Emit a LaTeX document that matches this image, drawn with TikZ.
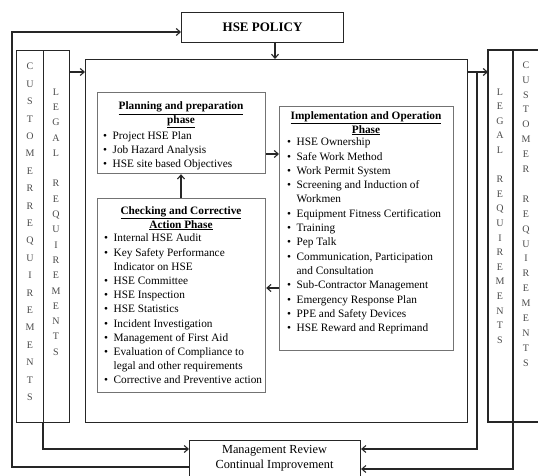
\documentclass[tikz,border=0pt]{standalone}
\usepackage{fontspec}
\setmainfont{Liberation Serif}
\usetikzlibrary{arrows.meta}
\begin{document}
\begin{tikzpicture}[x=1pt,y=-1pt,
  frame/.style={draw=black!85, line width=1.1pt, inner sep=0pt, anchor=north west},
  phasebox/.style={draw=black!55, line width=1.2pt, inner sep=0pt, anchor=north west},
  conn/.style={draw=black!85, line width=1.1pt},
  arr/.style={conn,-{Straight Barb[length=4pt,width=7pt]}},
  phasetitle/.style={font=\fontsize{11.3}{13.5}\selectfont\bfseries, align=center, inner sep=0pt},
  itemlist/.style={font=\fontsize{11.3}{14.2}\selectfont, align=left, inner sep=0pt, anchor=west},
  letters/.style={font=\fontsize{10}{#1}\selectfont, text=black!70, align=center, inner sep=0pt},
]
\newcommand{\bul}{\makebox[9.5pt][l]{\textbullet}}
\newcommand{\cont}{\hspace*{9.5pt}}
\useasboundingbox (0,0) rectangle (538,476);
\fill[white] (0,0) rectangle (538,476);

% top policy box
\node[frame, minimum width=162pt, minimum height=30pt] (policy) at (181,12) {};
\node[font=\fontsize{13}{15}\selectfont\bfseries, inner sep=0pt] (policytxt) at (policy.center) {HSE POLICY};

% main box
\node[frame, minimum width=382pt, minimum height=363pt] (main) at (85,59) {};

% left strip
\node[frame, minimum width=27pt, minimum height=372pt] (lcust) at (16,50) {};
\node[frame, minimum width=26pt, minimum height=372pt] (llegal) at (43,50) {};
\node[letters=17.4] (lcusttxt) at (30,232) {C\\U\\S\\T\\O\\M\\E\\R\\R\\E\\Q\\U\\I\\R\\E\\M\\E\\N\\T\\S};
\node[letters=15.3] (llegaltxt) at (56,222) {L\\E\\G\\A\\L\\\mbox{}\\R\\E\\Q\\U\\I\\R\\E\\M\\E\\N\\T\\S};

% right strip (cut at the right border)
\draw[conn] (540,50) -- (488,50) -- (488,422) -- (540,422);
\coordinate (rdivtop) at (513,50);
\coordinate (rdivbot) at (513,422);
\draw[conn] (rdivtop) -- (rdivbot);
\node[letters=14.6] (rlegaltxt) at (500,216) {L\\E\\G\\A\\L\\\mbox{}\\R\\E\\Q\\U\\I\\R\\E\\M\\E\\N\\T\\S};
\node[letters=14.9] (rcusttxt) at (526,214) {C\\U\\S\\T\\O\\M\\E\\R\\\mbox{}\\R\\E\\Q\\U\\I\\R\\E\\M\\E\\N\\T\\S};
\coordinate (rstripin) at (488,72);

% management box
\node[frame, minimum width=171pt, minimum height=37pt] (mgmt) at (189,440) {};
\node[font=\fontsize{12.3}{15}\selectfont, align=center, inner sep=0pt] (mgmttxt) at (274.5,458.5) {Management Review\\Continual Improvement};

% planning box
\node[phasebox, minimum width=168pt, minimum height=81pt] (plan) at (97,92) {};
\node[phasetitle] (plantitle) at (181,115) {\underline{Planning and preparation}\\\underline{phase}};
\node[itemlist] (planitems) at (103,150.5) {\bul Project HSE Plan\\\bul Job Hazard Analysis\\\bul HSE site based Objectives};

% implementation box
\node[phasebox, minimum width=174pt, minimum height=244pt] (impl) at (279,106) {};
\node[phasetitle] (impltitle) at (366,123.5) {\underline{Implementation and Operation}\\\underline{Phase}};
\node[itemlist, font=\fontsize{11.3}{14.3}\selectfont] (implitems) at (287,236) {\bul HSE Ownership\\\bul Safe Work Method\\\bul Work Permit System\\\bul Screening and Induction of\\\cont Workmen\\\bul Equipment Fitness Certification\\\bul Training\\\bul Pep Talk\\\bul Communication, Participation\\\cont and Consultation\\\bul Sub-Contractor Management\\\bul Emergency Response Plan\\\bul PPE and Safety Devices\\\bul HSE Reward and Reprimand};

% checking box
\node[phasebox, minimum width=168pt, minimum height=194pt] (check) at (97,198) {};
\node[phasetitle] (checktitle) at (181,218.5) {\underline{Checking and Corrective}\\\underline{Action Phase}};
\node[itemlist] (checkitems) at (104,309) {\bul Internal HSE Audit\\\bul Key Safety Performance\\\cont Indicator on HSE\\\bul HSE Committee\\\bul HSE Inspection\\\bul HSE Statistics\\\bul Incident Investigation\\\bul Management of First Aid\\\bul Evaluation of Compliance to\\\cont legal and other requirements\\\bul Corrective and Preventive action};

% connectors
\coordinate (pdown) at (275,42);
\draw[arr] (pdown) -- (pdown |- main.north);
\draw[arr] (llegal.east |- 0,72) -- (main.west |- 0,72);
\draw[arr] (main.east |- 0,72) -- (rstripin);
\coordinate (rturn) at (477,72);
\draw[arr] (rturn) -- (477,449) -- (mgmt.east |- 0,449);
\draw[arr] (rdivbot) -- (513,469) -- (mgmt.east |- 0,469);
\draw[arr] (llegal.south west) -- (43,449) -- (mgmt.west |- 0,449);
\draw[arr] (mgmt.west |- 0,467) -- (12,467) -- (12,32) -- (policy.west |- 0,32);
\draw[arr] (plan.east |- 0,154) -- (impl.west |- 0,154);
\draw[arr] (impl.west |- 0,288) -- (check.east |- 0,288);
\draw[arr] (check.north -| 181,0) -- (plan.south -| 181,0);
\end{tikzpicture}
\end{document}
